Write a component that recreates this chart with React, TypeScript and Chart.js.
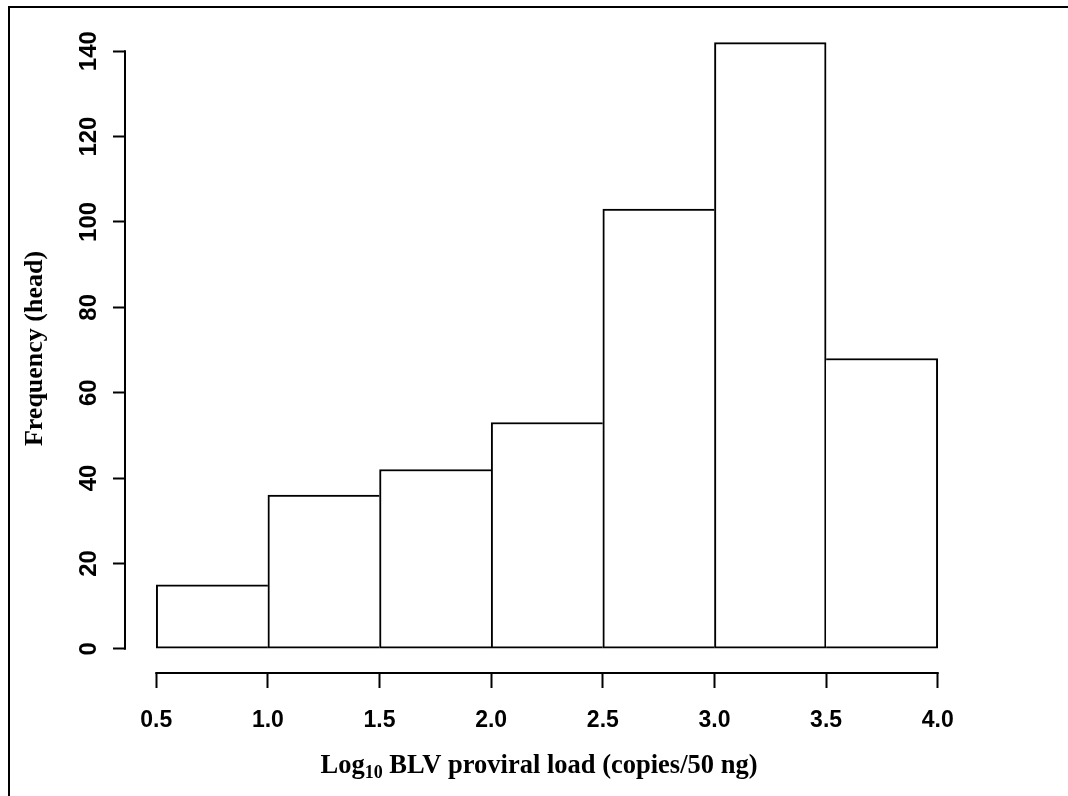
import React, { useEffect, useRef } from "react";
import { Chart, registerables } from "chart.js";

Chart.register(...registerables);

// ---- data ----
const binStarts = [0.5, 1.0, 1.5, 2.0, 2.5, 3.0, 3.5];
const binWidth = 0.5;
const counts = [15, 36, 42, 53, 103, 142, 68];
const xTickValues = [0.5, 1.0, 1.5, 2.0, 2.5, 3.0, 3.5, 4.0];
const yTickValues = [0, 20, 40, 60, 80, 100, 120, 140];
const xTitleMain = "Log";
const xTitleSub = "10";
const xTitleRest = " BLV proviral load (copies/50 ng)";
const yTitle = "Frequency (head)";

const W = 1068;
const H = 796;
const LW = 2;

const overlayPlugin = {
  id: "rHistOverlay",
  afterDraw(chart: any) {
    const { ctx, chartArea, scales } = chart;
    const xs = scales.x;
    const ys = scales.y;
    ctx.save();
    ctx.strokeStyle = "#000";
    ctx.lineWidth = LW;
    ctx.lineCap = "square";
    // y axis line from first to last tick
    const yx = Math.round(chartArea.left);
    ctx.beginPath();
    ctx.moveTo(yx, ys.getPixelForValue(yTickValues[0]));
    ctx.lineTo(yx, ys.getPixelForValue(yTickValues[yTickValues.length - 1]));
    ctx.stroke();
    // x axis line
    const xy = Math.round(chartArea.bottom);
    ctx.beginPath();
    ctx.moveTo(xs.getPixelForValue(xTickValues[0]), xy);
    ctx.lineTo(xs.getPixelForValue(xTickValues[xTickValues.length - 1]), xy);
    ctx.stroke();

    // x title with subscript
    ctx.fillStyle = "#000";
    const mainFont = 'bold 26.5px "Liberation Serif", "Times New Roman", serif';
    const subFont = 'bold 18px "Liberation Serif", "Times New Roman", serif';
    const yFont = 'bold 26px "Liberation Serif", "Times New Roman", serif';
    ctx.textBaseline = "alphabetic";
    ctx.textAlign = "left";
    ctx.font = mainFont;
    const w1 = ctx.measureText(xTitleMain).width;
    const w3 = ctx.measureText(xTitleRest).width;
    ctx.font = subFont;
    const w2 = ctx.measureText(xTitleSub).width;
    const total = w1 + w2 + w3;
    const cx = (chartArea.left + chartArea.right) / 2 - 8;
    let sx = cx - total / 2;
    const baseY = 773;
    ctx.font = mainFont;
    ctx.fillText(xTitleMain, sx, baseY);
    sx += w1;
    ctx.font = subFont;
    ctx.fillText(xTitleSub, sx, baseY + 5);
    sx += w2;
    ctx.font = mainFont;
    ctx.fillText(xTitleRest, sx, baseY);

    // y title
    ctx.save();
    ctx.translate(42, 348.5);
    ctx.rotate(-Math.PI / 2);
    ctx.textAlign = "center";
    ctx.font = yFont;
    ctx.fillText(yTitle, 0, 0);
    ctx.restore();

    ctx.restore();
  },
};

export default function App() {
  const canvasRef = useRef<HTMLCanvasElement | null>(null);

  useEffect(() => {
    const canvas = canvasRef.current;
    if (!canvas) return;
    const data = binStarts.map((s, i) => ({ x: s + binWidth / 2, y: counts[i] }));
    const last = counts.length - 1;
    // each shared edge is drawn by the taller of the two neighbouring bars
    const sideWidths = (i: number) => {
      const left = i === 0 ? LW : counts[i] > counts[i - 1] ? LW : 0;
      const right = i === last ? LW : counts[i] >= counts[i + 1] ? LW : 0;
      return { top: LW, bottom: LW, left, right };
    };
    const chart = new Chart(canvas, {
      type: "bar",
      data: {
        datasets: [
          {
            data,
            backgroundColor: "#ffffff",
            borderColor: "#000000",
            borderSkipped: false,
            borderWidth: (c: any) => sideWidths(c.dataIndex),
            barPercentage: 1,
            categoryPercentage: 1,
          } as any,
        ],
      },
      options: {
        responsive: false,
        animation: false,
        devicePixelRatio: 1,
        layout: { padding: { top: 16, right: 99, bottom: 0, left: 0 } },
        plugins: {
          legend: { display: false },
          tooltip: { enabled: false },
          title: { display: false },
        },
        scales: {
          x: {
            type: "linear",
            min: 0.36,
            max: 4.14,
            offset: false,
            afterFit: (s: any) => {
              s.height = 123;
            },
            afterBuildTicks: (s: any) => {
              s.ticks = xTickValues.map((v) => ({ value: v }));
            },
            grid: {
              offset: false,
              drawOnChartArea: false,
              drawTicks: true,
              tickLength: 15,
              tickColor: "#000",
              tickWidth: LW,
            },
            border: { display: false },
            ticks: {
              color: "#000",
              padding: 19,
              maxRotation: 0,
              autoSkip: false,
              font: { family: '"Liberation Sans", Arial, sans-serif', size: 23, weight: "bold" },
              callback: (v: any) => Number(v).toFixed(1),
            },
          },
          y: {
            type: "linear",
            min: -5.68,
            max: 147.68,
            afterFit: (s: any) => {
              s.width = 125;
            },
            afterBuildTicks: (s: any) => {
              s.ticks = yTickValues.map((v) => ({ value: v }));
            },
            grid: {
              drawOnChartArea: false,
              drawTicks: true,
              tickLength: 12,
              tickColor: "#000",
              tickWidth: LW,
            },
            border: { display: false },
            ticks: {
              color: "#000",
              padding: 4,
              minRotation: 90,
              maxRotation: 90,
              crossAlign: "center",
              autoSkip: false,
              font: { family: '"Liberation Sans", Arial, sans-serif', size: 24, weight: "bold" },
              callback: (v: any) => String(v),
            },
          },
        },
      } as any,
      plugins: [overlayPlugin],
    });
    return () => chart.destroy();
  }, []);

  return (
    <div style={{ position: "fixed", left: 0, top: 0, width: W, height: H, background: "#fff", overflow: "hidden" }}>
      <canvas ref={canvasRef} width={W} height={H} style={{ position: "absolute", left: 0, top: 0, width: W, height: H }} />
      <div
        style={{
          position: "absolute",
          left: 8,
          top: 6,
          width: W + 100,
          height: H + 100,
          borderTop: "2px solid #000",
          borderLeft: "2px solid #000",
          pointerEvents: "none",
        }}
      />
    </div>
  );
}
